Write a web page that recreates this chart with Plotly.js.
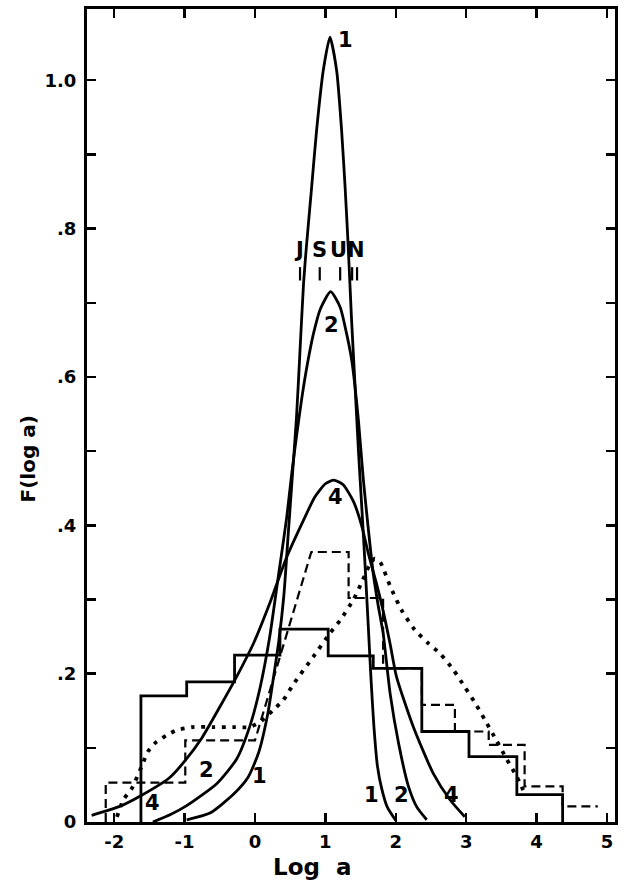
<!DOCTYPE html>
<html>
<head>
<meta charset="utf-8">
<script src="https://cdn.plot.ly/plotly-3.0.1.min.js"></script>
<style>html,body{margin:0;padding:0;background:#fff;}#chart{width:630px;height:881px;}</style>
</head>
<body>
<div id="chart"></div>
<script>
// ---- data ----
var xTickVals = [-2, -1, 0, 1, 2, 3, 4, 5];
var xTickText = ['-2', '-1', '0', '1', '2', '3', '4', '5'];
var yTickVals = [0, 0.1, 0.2, 0.3, 0.4, 0.5, 0.6, 0.7, 0.8, 0.9, 1.0];
var yTickText = ['0', '', '.2', '', '.4', '', '.6', '', '.8', '', '1.0'];

// model curve 1
var c1X = [-0.97, -0.64, -0.31, -0.10, 0.05, 0.18, 0.26, 0.34, 0.41, 0.47, 0.53, 0.59, 0.64, 0.69, 0.73, 0.805, 0.876, 0.97, 1.065, 1.16, 1.23, 1.28, 1.325, 1.37, 1.42, 1.47, 1.52, 1.56, 1.61, 1.65, 1.69, 1.74, 1.80, 1.88, 2.0];
var c1Y = [0.003, 0.012, 0.037, 0.060, 0.093, 0.145, 0.193, 0.245, 0.305, 0.385, 0.465, 0.546, 0.636, 0.726, 0.775, 0.856, 0.933, 1.013, 1.058, 1.013, 0.933, 0.856, 0.775, 0.681, 0.591, 0.50, 0.42, 0.353, 0.263, 0.19, 0.128, 0.075, 0.045, 0.020, 0.002];
// model curve 2
var c2X = [-1.45, -1.2, -0.97, -0.54, -0.26, -0.07, 0.07, 0.21, 0.33, 0.45, 0.52, 0.59, 0.66, 0.74, 0.83, 0.93, 1.075, 1.21, 1.30, 1.37, 1.42, 1.47, 1.54, 1.61, 1.68, 1.75, 1.82, 1.92, 2.04, 2.18, 2.30, 2.44];
var c2Y = [0.0, 0.010, 0.022, 0.052, 0.085, 0.130, 0.180, 0.250, 0.330, 0.410, 0.468, 0.520, 0.568, 0.615, 0.658, 0.692, 0.715, 0.694, 0.659, 0.625, 0.588, 0.541, 0.461, 0.395, 0.335, 0.292, 0.255, 0.173, 0.106, 0.048, 0.020, 0.003];
// model curve 4
var c4X = [-2.32, -1.92, -1.61, -1.21, -0.99, -0.75, -0.50, -0.26, -0.02, 0.21, 0.45, 0.69, 0.85, 1.00, 1.12, 1.25, 1.40, 1.52, 1.61, 1.73, 1.82, 1.92, 2.01, 2.25, 2.53, 2.77, 2.98];
var c4Y = [0.009, 0.021, 0.036, 0.060, 0.083, 0.114, 0.155, 0.196, 0.241, 0.295, 0.357, 0.407, 0.438, 0.456, 0.461, 0.455, 0.432, 0.398, 0.362, 0.320, 0.285, 0.240, 0.196, 0.128, 0.066, 0.030, 0.007];

// solid histogram: bin edges and heights
var solidEdges = [-1.62, -0.97, -0.29, 0.355, 1.04, 1.68, 2.37, 3.04, 3.72, 4.37];
var solidHeights = [0.170, 0.189, 0.225, 0.260, 0.224, 0.207, 0.122, 0.088, 0.037];

// dashed outline
var dashedX = [-2.12, -2.12, -0.99, -0.99, 0.0, 0.80, 1.33, 1.33, 1.82, 1.82, 2.37, 2.37, 2.84, 2.84, 3.32, 3.32, 3.83, 3.83, 4.37, 4.37, 4.87];
var dashedY = [0, 0.053, 0.053, 0.110, 0.110, 0.364, 0.364, 0.302, 0.302, 0.207, 0.207, 0.158, 0.158, 0.122, 0.122, 0.104, 0.104, 0.048, 0.048, 0.021, 0.021];

// dotted curve
var dottedX = [-1.96, -1.87, -1.75, -1.61, -1.52, -1.40, -1.25, -1.11, -0.88, -0.59, -0.31, -0.07, 0.10, 0.26, 0.40, 0.54, 0.83, 1.07, 1.21, 1.40, 1.53, 1.62, 1.70, 1.78, 1.92, 2.08, 2.27, 2.46, 2.63, 2.82, 2.98, 3.13, 3.27, 3.43, 3.58, 3.72, 3.81];
var dottedY = [0.007, 0.030, 0.045, 0.075, 0.095, 0.108, 0.117, 0.124, 0.128, 0.128, 0.128, 0.128, 0.137, 0.151, 0.164, 0.185, 0.223, 0.255, 0.272, 0.300, 0.326, 0.345, 0.355, 0.350, 0.318, 0.286, 0.259, 0.241, 0.227, 0.205, 0.182, 0.160, 0.137, 0.110, 0.084, 0.061, 0.043];

// planet markers
var planetLabels = ['J', 'S', 'U', 'N'];
var planetLabelX = [0.62, 0.92, 1.18, 1.44];
var planetLabelY = 0.771;
var planetMarkX = [0.64, 0.92, 1.21, 1.38, 1.45];
var planetMarkY0 = 0.730, planetMarkY1 = 0.748;

// curve labels
var curveLabelText = ['1', '2', '4', '1', '2', '4', '1', '2', '4'];
var curveLabelX = [1.28, 1.09, 1.15, 0.06, -0.69, -1.45, 1.66, 2.08, 2.79];
var curveLabelY = [1.054, 0.670, 0.438, 0.062, 0.070, 0.025, 0.036, 0.036, 0.036];

// ---- build ----
var FONT = 'DejaVu Sans, Liberation Sans, sans-serif';
var sx = [solidEdges[0]], sy = [0];
for (var i = 0; i < solidHeights.length; i++) { sx.push(solidEdges[i]); sy.push(solidHeights[i]); }
sx.push(solidEdges[solidEdges.length - 1]); sy.push(solidHeights[solidHeights.length - 1]);
sx.push(solidEdges[solidEdges.length - 1]); sy.push(0);

var mx = [], my = [];
planetMarkX.forEach(function (v) { mx.push(v, v, null); my.push(planetMarkY0, planetMarkY1, null); });

var LW = 2.8;
var traces = [
  {x: c1X, y: c1Y, mode: 'lines', line: {color: '#000', width: LW, shape: 'spline', smoothing: 0.6}, hoverinfo: 'skip'},
  {x: c2X, y: c2Y, mode: 'lines', line: {color: '#000', width: LW, shape: 'spline', smoothing: 0.6}, hoverinfo: 'skip'},
  {x: c4X, y: c4Y, mode: 'lines', line: {color: '#000', width: LW, shape: 'spline', smoothing: 0.6}, hoverinfo: 'skip'},
  {x: sx, y: sy, mode: 'lines', line: {color: '#000', width: LW, shape: 'hv'}, hoverinfo: 'skip'},
  {x: dashedX, y: dashedY, mode: 'lines', line: {color: '#000', width: 2.2, dash: '9px,5px'}, hoverinfo: 'skip'},
  {x: dottedX, y: dottedY, mode: 'lines', line: {color: '#000', width: 3.8, dash: '3.8px,6.5px', shape: 'spline', smoothing: 0.6}, hoverinfo: 'skip'},
  {x: mx, y: my, mode: 'lines', line: {color: '#000', width: 2.2}, hoverinfo: 'skip'}
];

var TXT = {family: FONT, size: 21, color: '#000', weight: 'bold'};
var ann = [];
for (var k = 0; k < curveLabelText.length; k++) {
  ann.push({x: curveLabelX[k], y: curveLabelY[k], xref: 'x', yref: 'y', text: curveLabelText[k], showarrow: false,
    xanchor: 'center', yanchor: 'middle', font: TXT});
}
for (var p = 0; p < planetLabels.length; p++) {
  ann.push({x: planetLabelX[p], y: planetLabelY, xref: 'x', yref: 'y', text: planetLabels[p], showarrow: false,
    xanchor: 'center', yanchor: 'middle', font: TXT});
}
ann.push({x: 0.427, y: -0.0555, xref: 'paper', yref: 'paper', text: 'Log\u00a0\u00a0a', showarrow: false,
  xanchor: 'center', yanchor: 'middle', font: {family: FONT, size: 23, color: '#000', weight: 'bold'}});
ann.push({x: -0.112, y: 0.447, xref: 'paper', yref: 'paper', text: 'F(log a)', showarrow: false, textangle: -90,
  xanchor: 'center', yanchor: 'middle', font: {family: FONT, size: 20, color: '#000', weight: 'bold'}});

var axisCommon = {
  showgrid: false, zeroline: false, showline: true, linecolor: '#000', linewidth: 3,
  mirror: 'allticks', ticks: 'inside', ticklen: 9, tickwidth: 2.5, tickcolor: '#000',
  tickfont: {family: FONT, size: 18, color: '#000', weight: 'bold'}, tickmode: 'array', fixedrange: true
};
var layout = {
  width: 630, height: 881,
  margin: {l: 87, r: 15, t: 9, b: 59},
  paper_bgcolor: '#fff', plot_bgcolor: '#fff',
  showlegend: false,
  xaxis: Object.assign({}, axisCommon, {range: [-2.386, 5.114], tickvals: xTickVals, ticktext: xTickText, ticklabelstandoff: 1}),
  yaxis: Object.assign({}, axisCommon, {range: [0, 1.096], tickvals: yTickVals, ticktext: yTickText, ticklabelstandoff: 4}),
  annotations: ann
};
Plotly.newPlot('chart', traces, layout, {staticPlot: true, displayModeBar: false});
</script>
</body>
</html>
